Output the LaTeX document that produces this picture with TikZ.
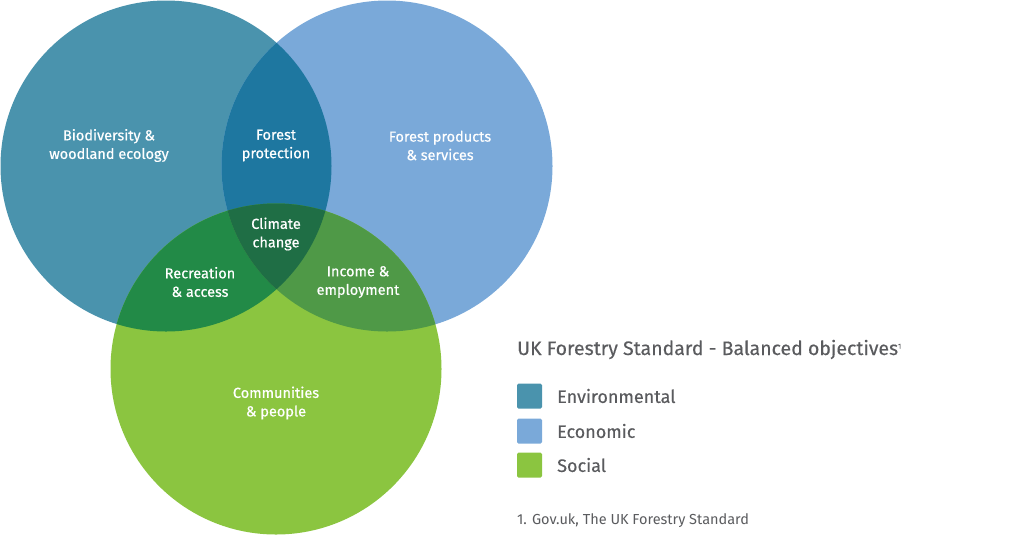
\documentclass[tikz,border=0pt]{standalone}
\usepackage{fontspec}
\setmainfont{Fira Sans}
\newfontfamily\labfont{Fira Sans}[FakeBold=0.6]
\newfontfamily\legfont{Fira Sans}[FakeBold=0.3]
\definecolor{envc}{HTML}{4A93AD}
\definecolor{ecoc}{HTML}{7AA9D9}
\definecolor{socc}{HTML}{8BC540}
\definecolor{enveco}{HTML}{1E77A0}
\definecolor{envsoc}{HTML}{228A47}
\definecolor{ecosoc}{HTML}{4F9947}
\definecolor{allc}{HTML}{1F6E45}
\definecolor{greytext}{HTML}{5A5B5E}
\tikzset{
  vlabel/.style={text=white, align=center, inner sep=0pt, font=\labfont\fontsize{14.5}{18.5}\selectfont},
  legtext/.style={text=greytext, anchor=west, inner sep=0pt, font=\legfont\fontsize{18}{20}\selectfont},
  legbox/.style={minimum width=25pt, minimum height=25pt, inner sep=0pt, rounded corners=1.5pt}
}
\begin{document}
\begin{tikzpicture}[x=1pt,y=-1pt]
\useasboundingbox (0,0) rectangle (1024,542);
\def\r{165.5}
\coordinate (E) at (166,166);
\coordinate (C) at (387,166);
\coordinate (S) at (276,369);
% base circles
\fill[envc] (E) circle (\r);
\fill[ecoc] (C) circle (\r);
\fill[socc] (S) circle (\r);
% pairwise overlaps
\begin{scope}
  \clip (E) circle (\r);
  \fill[enveco] (C) circle (\r);
  \fill[envsoc] (S) circle (\r);
\end{scope}
\begin{scope}
  \clip (C) circle (\r);
  \fill[ecosoc] (S) circle (\r);
\end{scope}
\begin{scope}
  \clip (E) circle (\r);
  \clip (C) circle (\r);
  \fill[allc] (S) circle (\r);
\end{scope}
% labels
\node[vlabel] (bio) at (109,145.5) {Biodiversity \&\\woodland ecology};
\node[vlabel] (fp) at (276,145.5) {Forest\\protection};
\node[vlabel] (fps) at (440,145.5) {Forest products\\\& services};
\node[vlabel] (cc) at (276,234) {Climate\\change};
\node[vlabel] (ra) at (200,282) {Recreation\\\& access};
\node[vlabel] (ie) at (358,282) {Income \&\\employment};
\node[vlabel] (cp) at (276,403) {Communities\\\& people};
% legend
\node[text=greytext, anchor=base west, inner sep=0pt, font=\legfont\fontsize{19.5}{21}\selectfont] (title) at (517,355) {UK Forestry Standard - Balanced objectives\raisebox{6.5pt}{\fontsize{7}{8}\selectfont 1}};
\node[legbox, fill=envc] (lb1) at (529.5,396) {};
\node[legbox, fill=ecoc] (lb2) at (529.5,431) {};
\node[legbox, fill=socc] (lb3) at (529.5,465) {};
\node[legtext] (lt1) at (557,396) {Environmental};
\node[legtext] (lt2) at (557,431) {Economic};
\node[legtext] (lt3) at (557,465) {Social};
\node[text=greytext, anchor=base west, inner sep=0pt, font=\fontsize{14.5}{16}\selectfont] (foot) at (517,524) {1. Gov.uk, The UK Forestry Standard};
\end{tikzpicture}
\end{document}
